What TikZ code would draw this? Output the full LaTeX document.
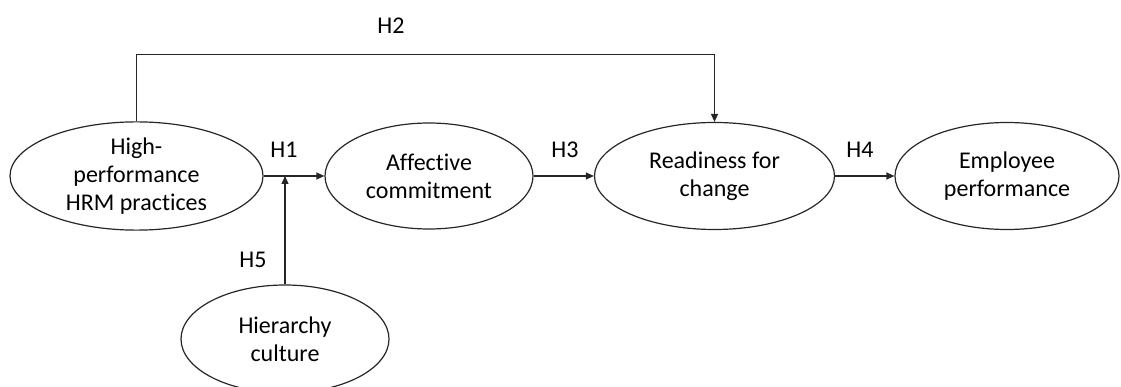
\documentclass[tikz,border=0pt]{standalone}
\usepackage{fontspec}
\setmainfont[Ligatures=NoCommon]{Carlito}
\usetikzlibrary{arrows.meta,calc,shapes.geometric}
\begin{document}
\begin{tikzpicture}[x=1pt,y=-1pt,
  every node/.style={font=\fontsize{24}{28}\selectfont, text=black},
  var/.style={ellipse, draw=black!85, line width=1.2pt, inner sep=0pt, align=center},
  link/.style={draw=black!85, line width=1.3pt, -{Triangle[length=8pt,width=7pt]}},
  hyp/.style={anchor=center}]
\useasboundingbox (0,0) rectangle (1121,387);
\node[var, minimum width=253pt, minimum height=106pt] (hp) at (136.5,176) {High-\\performance\\HRM practices};
\node[var, minimum width=208pt, minimum height=106pt] (ac) at (429,176) {Affective\\commitment};
\node[var, minimum width=240pt, minimum height=107pt] (rc) at (714.5,176) {Readiness for\\change};
\node[var, minimum width=224pt, minimum height=107pt] (ep) at (1007,176) {Employee\\performance};
\node[var, minimum width=208pt, minimum height=108pt] (hc) at (285,339) {Hierarchy\\culture};
\coordinate (jn) at (hc.north |- hp.east);
\coordinate (tl) at ($(hp.north)+(0,-67)$);
\draw[link] (hp.east) -- (ac.west);
\draw[link] (hc.north) -- (jn);
\draw[link] (ac.east) -- (rc.west);
\draw[link] (rc.east) -- (ep.west);
\draw[link] (hp.north) -- (tl) -| (rc.north);
\node[hyp] (h1) at (284,150) {H1};
\node[hyp] (h2) at (391,26) {H2};
\node[hyp] (h3) at (565,150) {H3};
\node[hyp] (h4) at (860,150) {H4};
\node[hyp] (h5) at (253,260) {H5};
\end{tikzpicture}
\end{document}
